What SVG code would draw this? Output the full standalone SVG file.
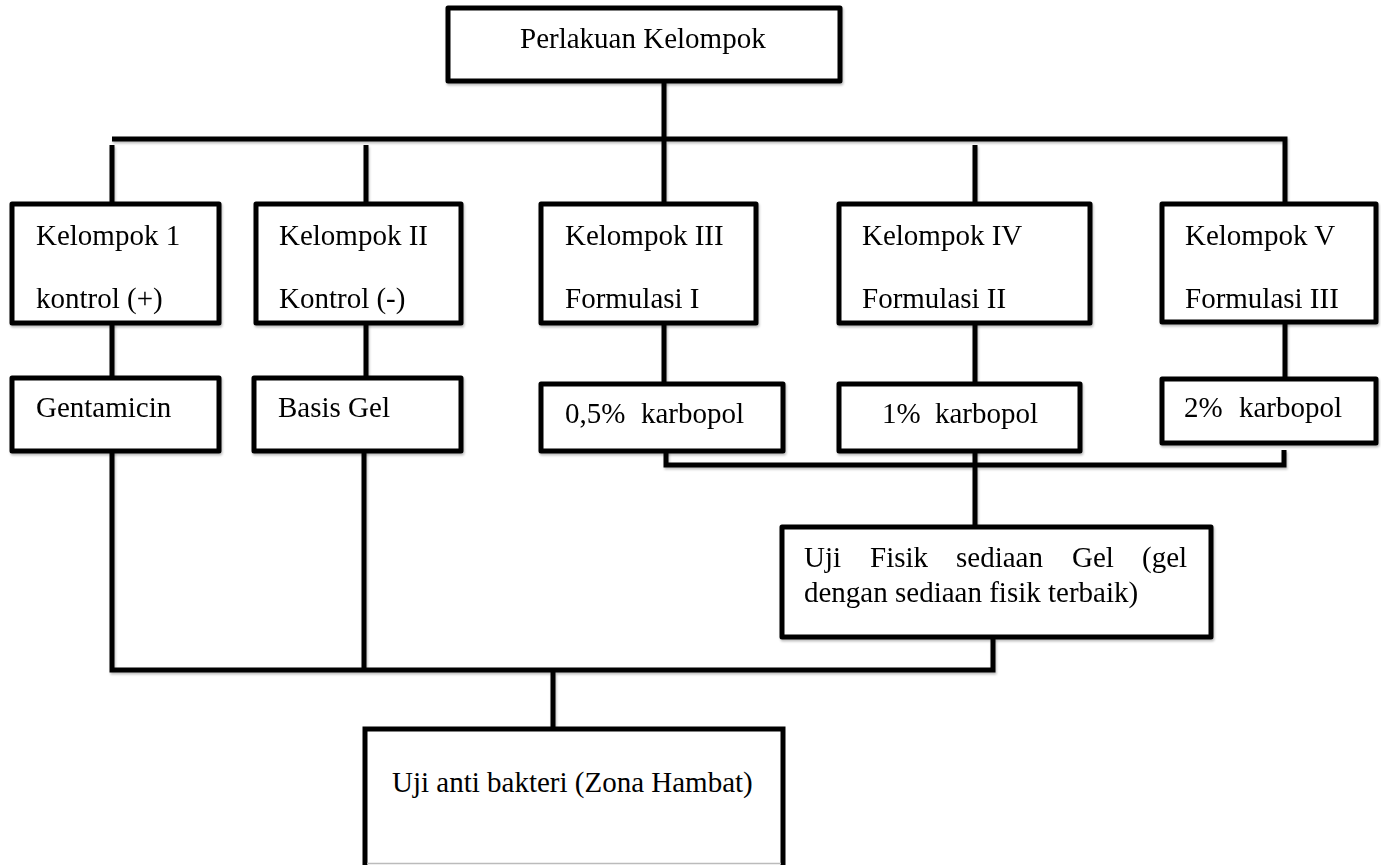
<svg xmlns="http://www.w3.org/2000/svg" width="1381" height="865" viewBox="0 0 1381 865">
<defs>
<filter id="sh" x="-5%" y="-5%" width="110%" height="120%">
<feDropShadow dx="1" dy="2" stdDeviation="1.2" flood-color="#000" flood-opacity="0.25"/>
</filter>
<style>
.box{fill:#fff;stroke:#000;stroke-width:5;stroke-linejoin:round}
.ln{fill:none;stroke:#000;stroke-width:5;stroke-linejoin:miter}
text{font-family:"Liberation Serif","Times New Roman",serif;font-size:29px;fill:#000}
</style>
</defs>
<rect width="1381" height="865" fill="#fff"/>
<g id="connectors" filter="url(#sh)">
<path class="ln" d="M664,81 V204"/>
<path class="ln" d="M112,139 H1285 V204"/>
<path class="ln" d="M112,145 V204"/>
<path class="ln" d="M366,145 V204"/>
<path class="ln" d="M975,145 V204"/>
<path class="ln" d="M112,323 V378"/>
<path class="ln" d="M366,323 V378"/>
<path class="ln" d="M664,323 V384"/>
<path class="ln" d="M975,323 V384"/>
<path class="ln" d="M1285,322 V379"/>
<path class="ln" d="M666,451 V465 H1284 V450"/>
<path class="ln" d="M975,451 V527"/>
<path class="ln" d="M112,451 V670 H993 V638"/>
<path class="ln" d="M364,451 V670"/>
<path class="ln" d="M553,670 V729"/>
</g>
<g id="n-top" filter="url(#sh)"><rect class="box" x="448" y="8" width="392" height="73"/><text x="520" y="48">Perlakuan Kelompok</text></g>
<g id="n-k1" filter="url(#sh)"><rect class="box" x="12" y="204" width="207" height="119"/><text x="36" y="245">Kelompok 1</text><text x="36" y="308">kontrol (+)</text></g>
<g id="n-k2" filter="url(#sh)"><rect class="box" x="256" y="204" width="205" height="119"/><text x="279" y="245">Kelompok II</text><text x="279" y="308">Kontrol (-)</text></g>
<g id="n-k3" filter="url(#sh)"><rect class="box" x="541" y="204" width="215" height="119"/><text x="565" y="245">Kelompok III</text><text x="565" y="308">Formulasi I</text></g>
<g id="n-k4" filter="url(#sh)"><rect class="box" x="839" y="204" width="251" height="119"/><text x="862" y="245">Kelompok IV</text><text x="862" y="308">Formulasi II</text></g>
<g id="n-k5" filter="url(#sh)"><rect class="box" x="1162" y="204" width="214" height="118"/><text x="1185" y="245">Kelompok V</text><text x="1185" y="308">Formulasi III</text></g>
<g id="n-genta" filter="url(#sh)"><rect class="box" x="12" y="378" width="207" height="73"/><text x="36" y="417">Gentamicin</text></g>
<g id="n-basis" filter="url(#sh)"><rect class="box" x="254" y="378" width="207" height="73"/><text x="278" y="417">Basis Gel</text></g>
<g id="n-k05" filter="url(#sh)"><rect class="box" x="541" y="384" width="242" height="67"/><text x="565" y="423">0,5%<tspan x="641">karbopol</tspan></text></g>
<g id="n-k10" filter="url(#sh)"><rect class="box" x="839" y="384" width="241" height="67"/><text x="882" y="423">1%<tspan x="935">karbopol</tspan></text></g>
<g id="n-k20" filter="url(#sh)"><rect class="box" x="1162" y="379" width="214" height="64"/><text x="1184" y="417">2%<tspan x="1239">karbopol</tspan></text></g>
<g id="n-fisik" filter="url(#sh)"><rect class="box" x="782" y="527" width="429" height="110"/><text y="567"><tspan x="804">Uji</tspan><tspan x="870">Fisik</tspan><tspan x="956">sediaan</tspan><tspan x="1072">Gel</tspan><tspan x="1142">(gel</tspan></text><text x="804" y="602">dengan sediaan fisik terbaik)</text></g>
<g id="n-anti"><rect x="365" y="729" width="418" height="136" fill="#fff"/><path class="ln" d="M365,866 V729 H783 V866"/><line x1="367" y1="863.5" x2="781" y2="863.5" stroke="#bbb" stroke-width="1.5"/><text x="392" y="792">Uji anti bakteri (Zona Hambat)</text></g>
</svg>
